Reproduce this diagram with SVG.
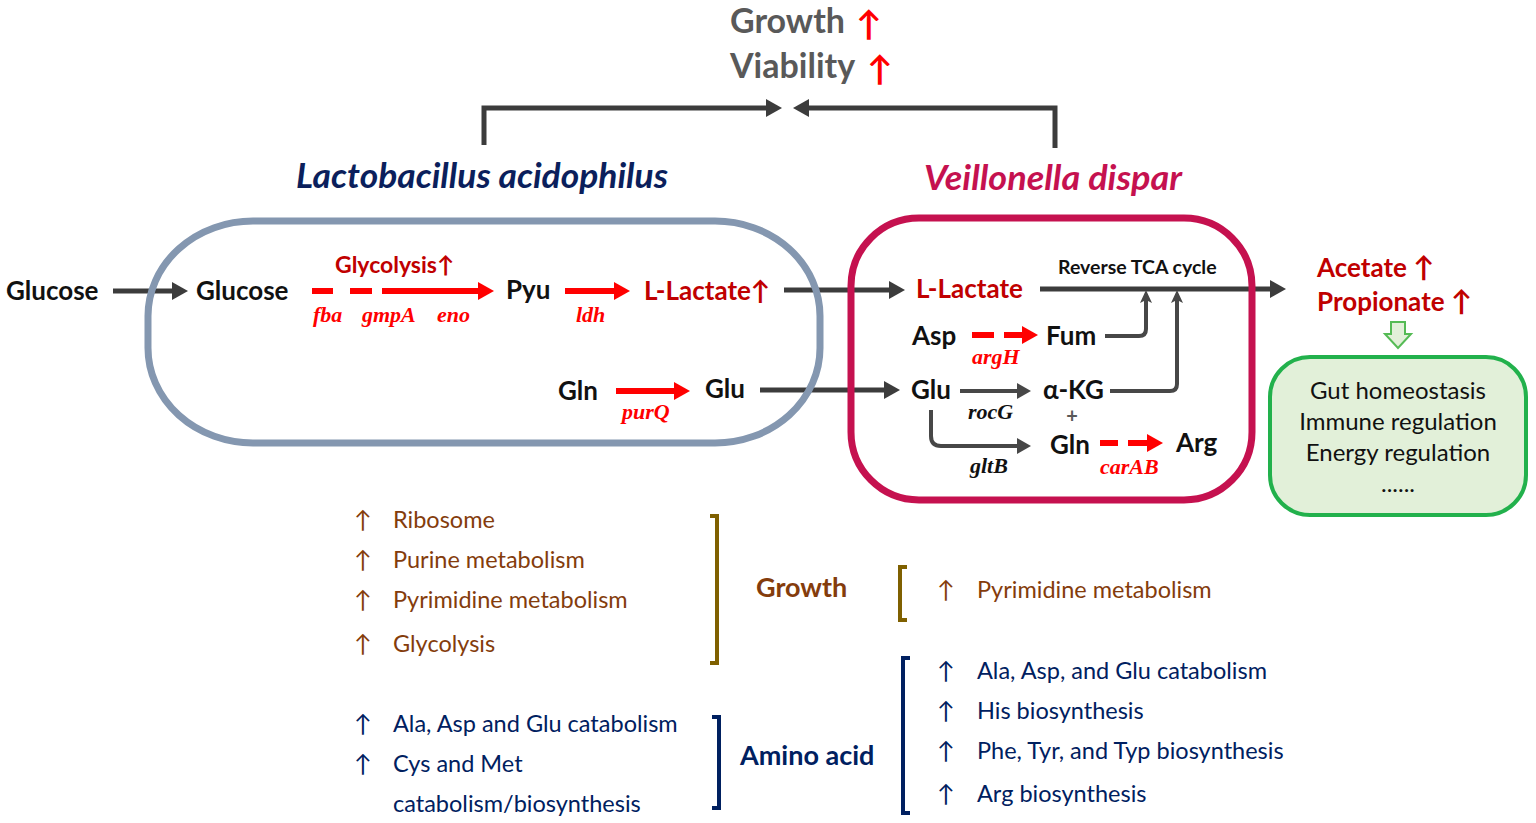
<svg xmlns="http://www.w3.org/2000/svg" width="1536" height="823" viewBox="0 0 1536 823">
<style>
text{font-family:Lato,"Liberation Sans",sans-serif}
.b{font-weight:bold}
.blk{fill:#111}
.dr{fill:#c00000}
.gene{font-family:"Liberation Serif",serif;font-style:italic;font-weight:bold;font-size:22px}
.red{fill:#ff0000}
.m{font-size:26px;font-weight:bold}
.br{fill:#843c0c}
.nv{fill:#002060}
.li{font-size:23.5px}
.gb{font-size:24px}
.dk{stroke:#3c3c3c;stroke-width:5;fill:none}
.dg{stroke:#474747;stroke-width:4;fill:none}
.rd{stroke:#ff0000;stroke-width:6;fill:none}
</style>
<defs>
<marker id="ah" viewBox="0 0 16 18" refX="4" refY="9" markerWidth="16" markerHeight="18" markerUnits="userSpaceOnUse" orient="auto"><path d="M0,0 L16,9 L0,18 z" fill="#3c3c3c"/></marker>
<marker id="ahs" viewBox="0 0 14 16" refX="4" refY="8" markerWidth="14" markerHeight="16" markerUnits="userSpaceOnUse" orient="auto"><path d="M0,0 L14,8 L0,16 z" fill="#474747"/></marker>
<marker id="ahu" viewBox="0 0 14 14" refX="6" refY="7" markerWidth="14" markerHeight="14" markerUnits="userSpaceOnUse" orient="auto"><path d="M0,1 L13,7 L0,13 L3,7 z" fill="#474747"/></marker>
<marker id="ar" viewBox="0 0 16 18" refX="4" refY="9" markerWidth="16" markerHeight="18" markerUnits="userSpaceOnUse" orient="auto"><path d="M0,0 L16,9 L0,18 z" fill="#ff0000"/></marker>
</defs>

<g id="top">
<text x="730" y="33" class="b" font-size="34" fill="#595959">Growth</text>
<text x="856" y="36" class="b" font-size="34" fill="#ff0000">↑</text>
<text x="730" y="78" class="b" font-size="34" fill="#595959">Viability</text>
<text x="867" y="81" class="b" font-size="34" fill="#ff0000">↑</text>
</g>

<g id="connectors">
<path class="dk" d="M484,145 L484,108 L770,108" marker-end="url(#ah)"/>
<path class="dk" d="M1055,148 L1055,108 L805,108" marker-end="url(#ah)"/>
<line class="dk" x1="113" y1="291" x2="176" y2="291" marker-end="url(#ah)"/>
<line class="rd" x1="312" y1="291" x2="333" y2="291"/>
<line class="rd" x1="350" y1="291" x2="372" y2="291"/>
<line class="rd" x1="382" y1="291" x2="482" y2="291" marker-end="url(#ar)"/>
<line class="rd" x1="565" y1="291" x2="618" y2="291" marker-end="url(#ar)"/>
<line class="dk" x1="784" y1="290" x2="893" y2="290" marker-end="url(#ah)"/>
<line class="rd" x1="616" y1="391" x2="678" y2="391" marker-end="url(#ar)"/>
<line class="dk" x1="760" y1="390" x2="888" y2="390" marker-end="url(#ah)"/>
<line class="dk" x1="1040" y1="289" x2="1274" y2="289" marker-end="url(#ah)"/>
<path class="dg" d="M1105,336 L1139,336 Q1146,336 1146,329 L1146,297" marker-end="url(#ahu)"/>
<path class="dg" d="M1110,391 L1170,391 Q1177,391 1177,384 L1177,297" marker-end="url(#ahu)"/>
<line class="rd" x1="972" y1="335" x2="994" y2="335"/>
<line class="rd" x1="1004" y1="335" x2="1026" y2="335" marker-end="url(#ar)"/>
<line class="dg" x1="960" y1="391" x2="1021" y2="391" marker-end="url(#ahs)"/>
<path class="dg" d="M931,410 L931,436 Q931,446 941,446 L1021,446" marker-end="url(#ahs)"/>
<line class="rd" x1="1100" y1="443" x2="1118" y2="443"/>
<line class="rd" x1="1128" y1="443" x2="1151" y2="443" marker-end="url(#ar)"/>
<path d="M1391,322 L1405,322 L1405,334 L1411,334 L1398,348 L1385,334 L1391,334 z" fill="#e2f0d9" stroke="#55bb55" stroke-width="2"/>
</g>

<g id="lacto">
<rect x="148" y="221" width="672" height="222" rx="105" ry="95" fill="none" stroke="#8497b0" stroke-width="7"/>
<text x="296" y="188" class="b" font-style="italic" font-size="35" fill="#0b1f5c" textLength="372" lengthAdjust="spacingAndGlyphs">Lactobacillus acidophilus</text>
<text x="196" y="300" class="m blk">Glucose</text>
<text x="335" y="273" class="b dr" font-size="23">Glycolysis↑</text>
<text x="313" y="322" class="gene red">fba</text>
<text x="362" y="322" class="gene red">gmpA</text>
<text x="437" y="322" class="gene red">eno</text>
<text x="506" y="299" class="m blk">Pyu</text>
<text x="576" y="322" class="gene red">ldh</text>
<text x="644" y="300" class="m dr" font-size="27">L-Lactate↑</text>
<text x="558" y="400" class="m blk">Gln</text>
<text x="622" y="419" class="gene red">purQ</text>
<text x="705" y="398" class="m blk">Glu</text>
</g>

<g id="glucose-ext">
<text x="6" y="300" class="m blk">Glucose</text>
</g>

<g id="veillonella">
<rect x="851" y="218" width="401" height="282" rx="68" fill="none" stroke="#c5114f" stroke-width="7"/>
<text x="924" y="190" class="b" font-style="italic" font-size="35" fill="#c5114f" textLength="258" lengthAdjust="spacingAndGlyphs">Veillonella dispar</text>
<text x="916" y="298" class="m dr">L-Lactate</text>
<text x="1058" y="274" class="b blk" font-size="19.5">Reverse TCA cycle</text>
<text x="912" y="345" class="m blk">Asp</text>
<text x="972" y="364" class="gene red">argH</text>
<text x="1046" y="345" class="m blk">Fum</text>
<text x="911" y="399" class="m blk">Glu</text>
<text x="968" y="419" class="gene blk">rocG</text>
<text x="1043" y="399" class="m blk">α-KG</text>
<text x="1072" y="423" class="b" font-size="20" fill="#595959" text-anchor="middle">+</text>
<text x="970" y="473" class="gene blk">gltB</text>
<text x="1050" y="454" class="m blk">Gln</text>
<text x="1100" y="474" class="gene red">carAB</text>
<text x="1176" y="452" class="m blk">Arg</text>
</g>

<g id="scfa">
<text x="1317" y="277" class="m dr" font-size="27">Acetate <tspan font-size="28">↑</tspan></text>
<text x="1317" y="311" class="m dr" font-size="27">Propionate <tspan font-size="28">↑</tspan></text>
</g>

<g id="effects">
<rect x="1270" y="357" width="256" height="158" rx="40" fill="#e2f0d9" stroke="#22b14c" stroke-width="4"/>
<text x="1398" y="399" class="gb blk" text-anchor="middle">Gut homeostasis</text>
<text x="1398" y="430" class="gb blk" text-anchor="middle">Immune regulation</text>
<text x="1398" y="461" class="gb blk" text-anchor="middle">Energy regulation</text>
<text x="1398" y="492" class="gb blk" text-anchor="middle">......</text>
</g>

<g id="growth-left">
<text x="354" y="528" class="li br">↑</text><text x="393" y="528" class="li br">Ribosome</text>
<text x="354" y="568" class="li br">↑</text><text x="393" y="568" class="li br">Purine metabolism</text>
<text x="354" y="608" class="li br">↑</text><text x="393" y="608" class="li br">Pyrimidine metabolism</text>
<text x="354" y="652" class="li br">↑</text><text x="393" y="652" class="li br">Glycolysis</text>
<path d="M710,516 L717,516 L717,663 L710,663" fill="none" stroke="#7f6000" stroke-width="4"/>
</g>

<g id="growth-label">
<text x="756" y="597" class="b br" font-size="27">Growth</text>
</g>

<g id="growth-right">
<path d="M907,567 L900,567 L900,620 L907,620" fill="none" stroke="#7f6000" stroke-width="4"/>
<text x="937" y="598" class="li br">↑</text><text x="977" y="598" class="li br">Pyrimidine metabolism</text>
</g>

<g id="amino-left">
<text x="354" y="732" class="li nv">↑</text><text x="393" y="732" class="li nv">Ala, Asp and Glu catabolism</text>
<text x="354" y="772" class="li nv">↑</text><text x="393" y="772" class="li nv">Cys and Met</text>
<text x="393" y="812" class="li nv">catabolism/biosynthesis</text>
<path d="M712,717 L719,717 L719,808 L712,808" fill="none" stroke="#002060" stroke-width="4"/>
</g>

<g id="amino-label">
<text x="740" y="765" class="b nv" font-size="27">Amino acid</text>
</g>

<g id="amino-right">
<path d="M910,658 L903,658 L903,813 L910,813" fill="none" stroke="#002060" stroke-width="4"/>
<text x="937" y="679" class="li nv">↑</text><text x="977" y="679" class="li nv">Ala, Asp, and Glu catabolism</text>
<text x="937" y="719" class="li nv">↑</text><text x="977" y="719" class="li nv">His biosynthesis</text>
<text x="937" y="759" class="li nv">↑</text><text x="977" y="759" class="li nv">Phe, Tyr, and Typ biosynthesis</text>
<text x="937" y="802" class="li nv">↑</text><text x="977" y="802" class="li nv">Arg biosynthesis</text>
</g>
</svg>
